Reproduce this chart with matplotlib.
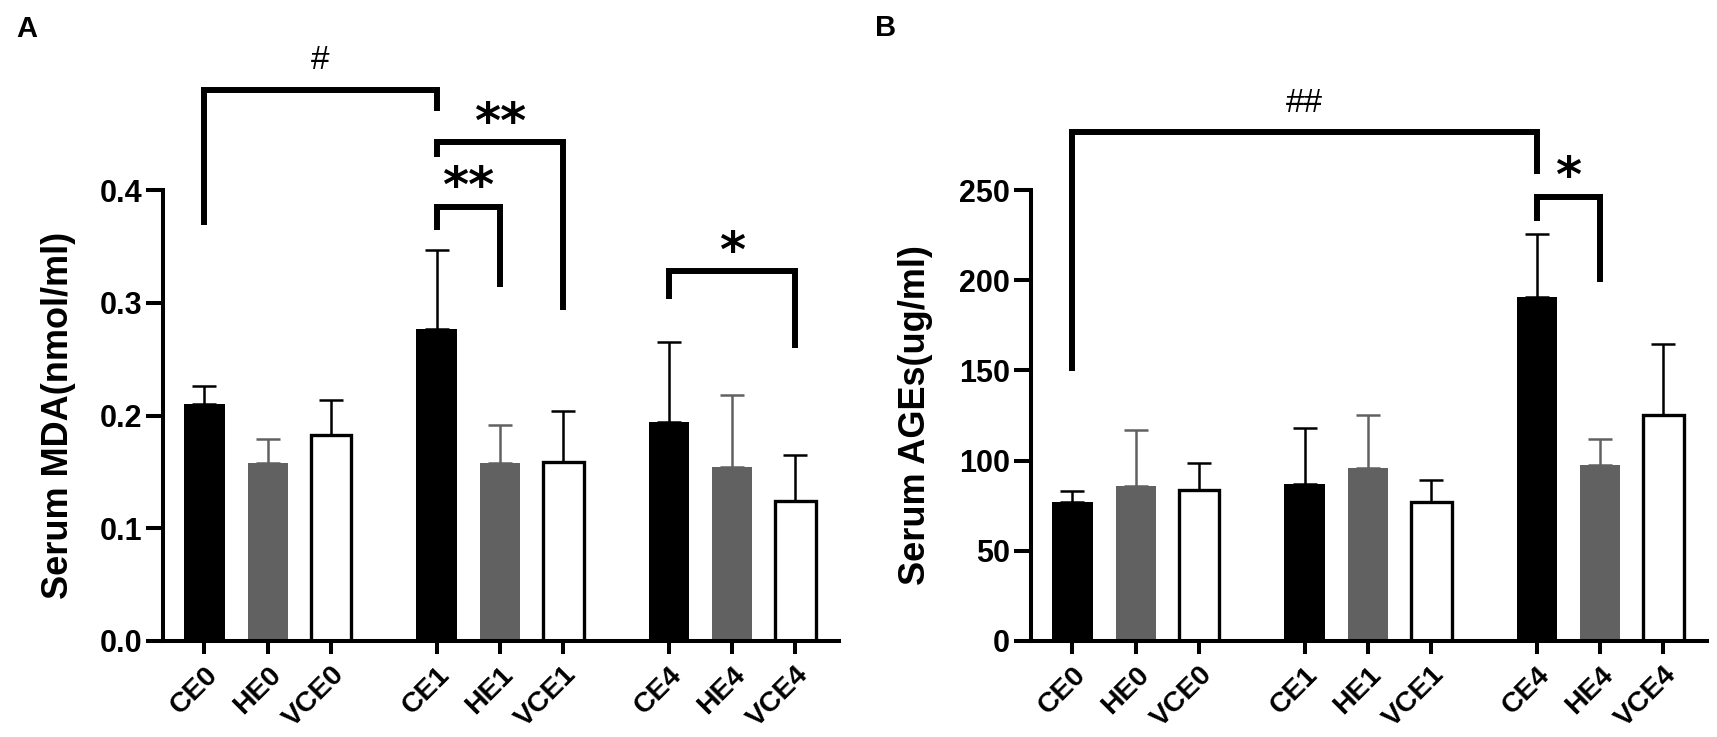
import matplotlib
matplotlib.use('Agg')
import matplotlib.pyplot as plt
from matplotlib.textpath import TextPath
from matplotlib.font_manager import FontProperties

plt.rcParams['font.family'] = ['Liberation Sans', 'DejaVu Sans']

categories = ['CE0', 'HE0', 'VCE0', 'CE1', 'HE1', 'VCE1', 'CE4', 'HE4', 'VCE4']
mda_mean = [0.210, 0.158, 0.183, 0.277, 0.158, 0.159, 0.194, 0.154, 0.124]
mda_sd = [0.016, 0.021, 0.031, 0.070, 0.034, 0.045, 0.071, 0.064, 0.041]
ages_mean = [76.8, 85.9, 83.6, 87.0, 95.9, 76.8, 190.7, 97.7, 125.4]
ages_sd = [6.5, 30.9, 14.9, 31.0, 29.5, 12.5, 35.0, 14.1, 39.4]

# significance brackets: (bar i, bar j, top, left leg end, right leg end, label, label y)
mda_brackets = [
    (0, 3, 0.489, 0.369, 0.470, '#', 0.517),
    (3, 5, 0.443, 0.429, 0.294, '**', 0.469),
    (3, 4, 0.385, 0.3645, 0.314, '**', 0.412),
    (6, 8, 0.328, 0.3035, 0.260, '*', 0.354),
]
ages_brackets = [
    (0, 6, 281.9, 149.4, 259.0, '##', 299.6),
    (6, 7, 246.0, 233.0, 199.0, '*', 263.0),
]

positions = [0, 1, 2, 3.667, 4.667, 5.667, 7.333, 8.333, 9.333]
face = ['black', '#616161', 'white'] * 3
errc = ['black', '#616161', 'black'] * 3

W, H = 1717, 737
fig = plt.figure(figsize=(W / 100, H / 100), dpi=100)

star_prop = FontProperties(family='DejaVu Sans', weight='bold')
hash_prop = FontProperties(family='Liberation Sans', weight='normal')


def glyph_center(ch, prop):
    ext = TextPath((0, 0), ch, size=1, prop=prop).get_extents()
    return (ext.y0 + ext.y1) / 2


star_c = glyph_center('*', star_prop)
hash_c = glyph_center('#', hash_prop)
STAR_FS, HASH_FS = 36, 24


def panel(rect, means, sds, ymax, yticks, yticklabels, ylabel, brackets, labx):
    ax = fig.add_axes(rect)
    for k in range(len(means)):
        ax.errorbar(positions[k], means[k], yerr=[[0], [sds[k]]], fmt='none',
                    ecolor=errc[k], elinewidth=1.8, capsize=8.5, capthick=1.8,
                    zorder=1)
        ax.bar(positions[k], means[k], width=0.64, color=face[k],
               edgecolor='black' if face[k] == 'white' else face[k],
               linewidth=2.4 if face[k] == 'white' else 0, zorder=2)
    ax.set_xlim(-0.655, 10.02)
    ax.set_ylim(0, ymax)
    for s in ['top', 'right']:
        ax.spines[s].set_visible(False)
    for s in ['left', 'bottom']:
        ax.spines[s].set_linewidth(2.9)
    ax.set_yticks(yticks)
    ax.set_yticklabels(yticklabels, fontsize=22, fontweight='bold')
    ax.set_xticks(positions)
    ax.set_xticklabels(categories, rotation=45, ha='right', va='top',
                       rotation_mode='anchor', fontsize=20.5, fontweight='bold')
    ax.tick_params(axis='y', length=12, width=2.9, pad=3)
    ax.tick_params(axis='x', length=9, width=2.9, pad=6)
    ax.set_ylabel(ylabel, fontsize=26, fontweight='bold')
    ax.yaxis.set_label_coords(labx, 0.5)
    for (i, j, top, lb, rb, lab, ly) in brackets:
        xi, xj = positions[i], positions[j]
        ax.plot([xi, xi, xj, xj], [lb, top, top, rb], color='black',
                linewidth=4.3, solid_joinstyle='miter', solid_capstyle='butt',
                clip_on=False, zorder=3)
        if '#' in lab:
            ax.annotate(lab, xy=((xi + xj) / 2, ly), xytext=(0, -hash_c * HASH_FS),
                        textcoords='offset points', ha='center', va='baseline',
                        fontproperties=hash_prop, fontsize=HASH_FS,
                        annotation_clip=False)
        else:
            ax.annotate(lab, xy=((xi + xj) / 2, ly), xytext=(0, -star_c * STAR_FS),
                        textcoords='offset points', ha='center', va='baseline',
                        fontproperties=star_prop, fontsize=STAR_FS,
                        annotation_clip=False)
    return ax


bottom = 1 - 641 / H
height = (641 - 190) / H
axA = panel([163 / W, bottom, (839 - 163) / W, height], mda_mean, mda_sd, 0.4,
            [0, 0.1, 0.2, 0.3, 0.4], ['0.0', '0.1', '0.2', '0.3', '0.4'],
            'Serum MDA(nmol/ml)', mda_brackets, -0.128)
axB = panel([1031 / W, bottom, (1707 - 1031) / W, height], ages_mean, ages_sd, 250,
            [0, 50, 100, 150, 200, 250], ['0', '50', '100', '150', '200', '250'],
            'Serum AGEs(ug/ml)', ages_brackets, -0.145)

fig.text(27 / W, 1 - 29 / H, 'A', fontsize=21, fontweight='bold', ha='center', va='center')
fig.text(886 / W, 1 - 28 / H, 'B', fontsize=21, fontweight='bold', ha='center', va='center')

fig.savefig('out.png', dpi=100)
